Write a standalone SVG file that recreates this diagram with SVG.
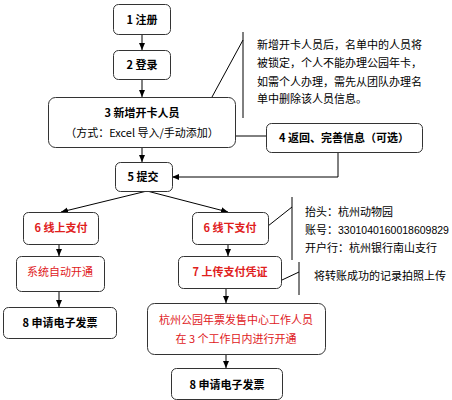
<svg xmlns="http://www.w3.org/2000/svg" width="452" height="400" viewBox="0 0 452 400">
<defs>
<marker id="ah" markerWidth="8" markerHeight="8" refX="7" refY="4" orient="auto" markerUnits="userSpaceOnUse">
<path d="M0,1 L7,4 L0,7 Z" fill="#000"/>
</marker>
<style>
.box{fill:#fff;stroke:#333;stroke-width:1}
.ln{fill:none;stroke:#000;stroke-width:1}
.ar{fill:none;stroke:#000;stroke-width:1;marker-end:url(#ah)}
text{font-family:"Noto Sans CJK SC","Liberation Sans",sans-serif;font-size:11px;fill:#000}
.b{font-weight:bold;text-anchor:middle}
.c{text-anchor:middle}
.red{fill:#e0201c}
.num{font-family:"Liberation Sans","Noto Sans CJK SC",sans-serif;font-size:10.5px}
</style>
</defs>
<rect width="452" height="400" fill="#fff"/>
<g id="connectors">
<line class="ar" x1="142" y1="34" x2="142" y2="50"/>
<line class="ar" x1="142" y1="79" x2="142" y2="97"/>
<line class="ar" x1="142" y1="147" x2="142" y2="162"/>
<line class="ln" x1="235" y1="136" x2="266" y2="136"/>
<polyline class="ar" points="338,152 338,177 172,177"/>
<line class="ar" x1="147" y1="191" x2="61" y2="212"/>
<line class="ar" x1="147" y1="191" x2="228" y2="212"/>
<line class="ar" x1="59" y1="244" x2="59" y2="256"/>
<line class="ar" x1="59" y1="291" x2="59" y2="307"/>
<line class="ar" x1="228" y1="244" x2="228" y2="256"/>
<line class="ar" x1="226" y1="288" x2="226" y2="303"/>
<line class="ar" x1="226" y1="354" x2="226" y2="368"/>
<polyline class="ln" points="212,97 243,40"/>
<line class="ln" x1="243" y1="32" x2="243" y2="118"/>
<polyline class="ln" points="268,226 292,207"/>
<line class="ln" x1="292" y1="197" x2="292" y2="260"/>
<polyline class="ln" points="282,280 299,272"/>
<line class="ln" x1="299" y1="262" x2="299" y2="295"/>
</g>
<g id="n1"><rect class="box" x="113.5" y="4.5" width="57" height="30" rx="5"/><text class="b" x="142" y="23.5">1 注册</text></g>
<g id="n2"><rect class="box" x="113.5" y="50.5" width="57" height="29" rx="5"/><text class="b" x="142" y="69">2 登录</text></g>
<g id="n3"><rect class="box" x="48.5" y="97.5" width="187" height="50" rx="7"/><text class="b" x="142" y="117">3 新增开卡人员</text><text class="c" x="142" y="137">（方式：Excel 导入/手动添加）</text></g>
<g id="n4"><rect class="box" x="266.5" y="123.5" width="156" height="29" rx="5"/><text class="b" x="344" y="142">4 返回、完善信息（可选）</text></g>
<g id="n5"><rect class="box" x="115.5" y="162.5" width="57" height="29" rx="5"/><text class="b" x="143" y="181">5 提交</text></g>
<g id="note1">
<text x="257" y="49">新增开卡人员后，名单中的人员将</text>
<text x="257" y="67">被锁定，个人不能办理公园年卡，</text>
<text x="257" y="86">如需个人办理，需先从团队办理名</text>
<text x="257" y="103">单中删除该人员信息。</text>
</g>
<g id="n6a"><rect class="box" x="23.5" y="212.5" width="75" height="32" rx="5"/><text class="b red" x="61" y="231.5">6 线上支付</text></g>
<g id="n6b"><rect class="box" x="192.5" y="212.5" width="76" height="32" rx="5"/><text class="b red" x="230" y="231.5">6 线下支付</text></g>
<g id="n7a"><rect class="box" x="16.5" y="256.5" width="88" height="35" rx="5"/><text class="c red" x="60" y="276">系统自动开通</text></g>
<g id="n7b"><rect class="box" x="178.5" y="256.5" width="103" height="32" rx="5"/><text class="b red" x="230" y="276">7 上传支付凭证</text></g>
<g id="n8a"><rect class="box" x="3.5" y="307.5" width="113" height="31" rx="5"/><text class="b" x="60" y="327">8 申请电子发票</text></g>
<g id="n9"><rect class="box" x="147.5" y="303.5" width="178" height="51" rx="7"/><text class="c red" x="236" y="324">杭州公园年票发售中心工作人员</text><text class="c red" x="236" y="343">在 3 个工作日内进行开通</text></g>
<g id="n8b"><rect class="box" x="171.5" y="368.5" width="111" height="31" rx="5"/><text class="b" x="227" y="389">8 申请电子发票</text></g>
<g id="note2">
<text x="305" y="216">抬头：杭州动物园</text>
<text x="305" y="234">账号：<tspan class="num">3301040160018609829</tspan></text>
<text x="305" y="252">开户行：杭州银行南山支行</text>
</g>
<g id="note3"><text x="314" y="280">将转账成功的记录拍照上传</text></g>
</svg>
